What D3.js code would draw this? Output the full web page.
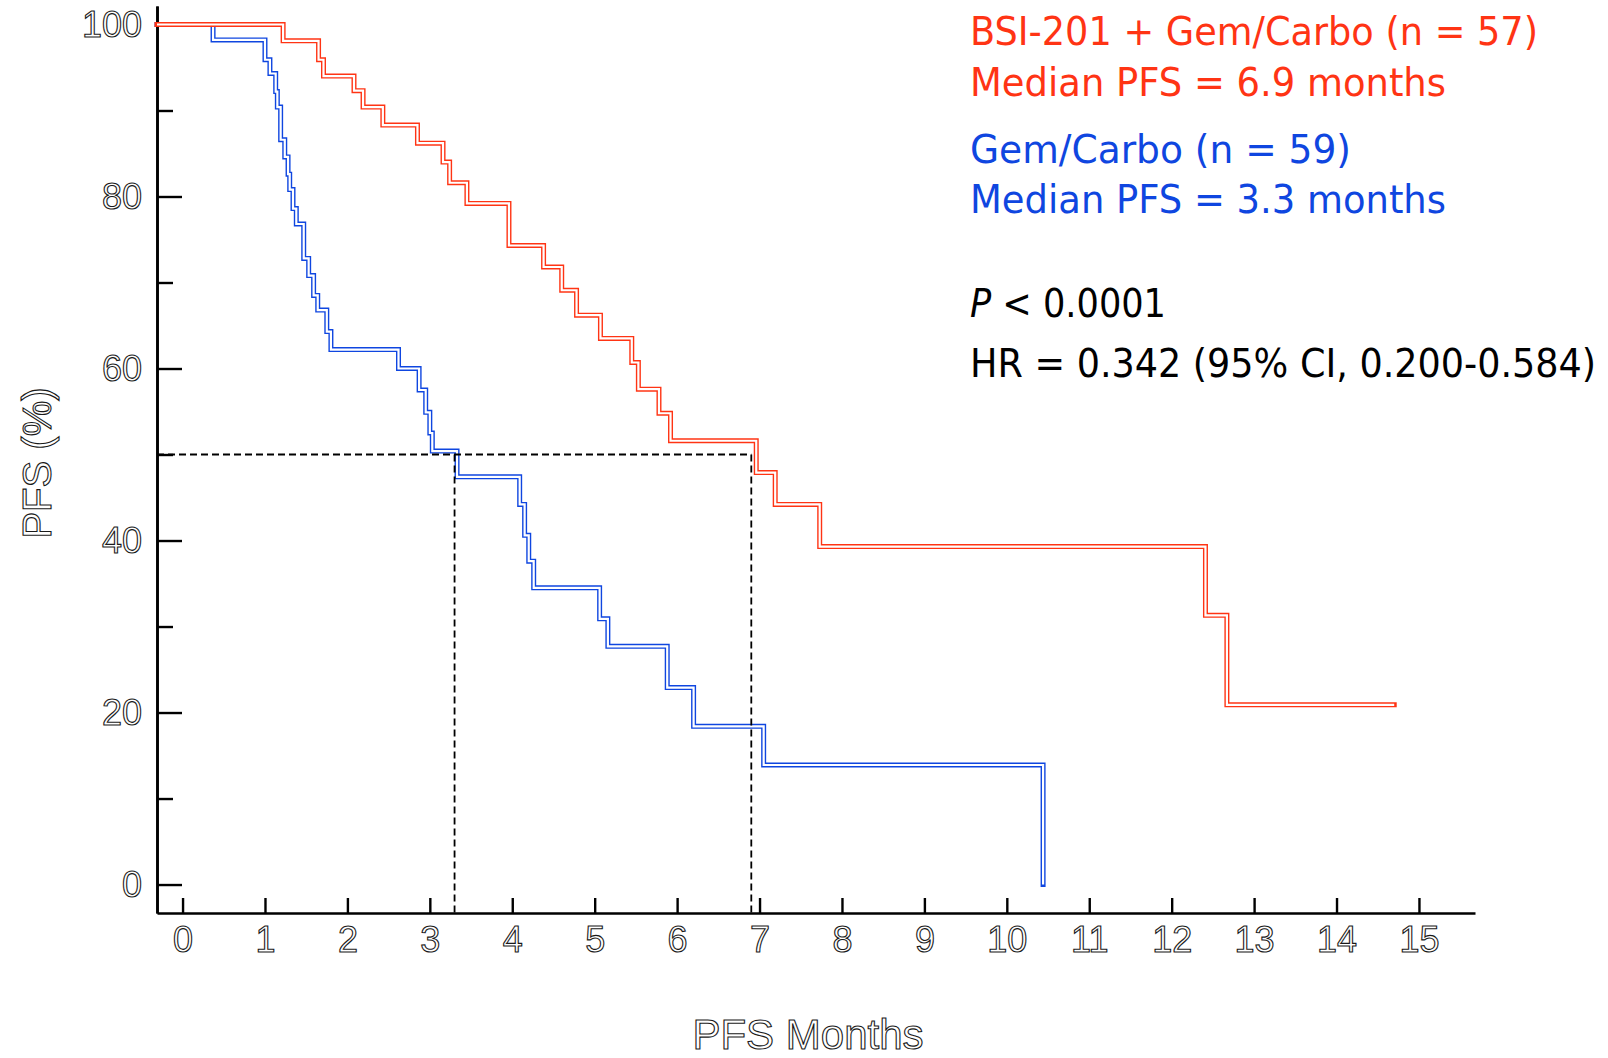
<!DOCTYPE html>
<html>
<head>
<meta charset="utf-8">
<script src="https://cdn.jsdelivr.net/npm/d3@7"></script>
<style>
  body { margin: 0; background: #fff; }
  svg { display: block; }
</style>
</head>
<body>
<div id="chart"></div>
<script>
// Kaplan-Meier step data (months, PFS %)
const bsiTimes = [1.22, 1.65, 1.71, 2.08, 2.19, 2.43, 2.85, 3.16, 3.24, 3.45, 3.96, 4.38, 4.60, 4.78, 5.07, 5.45, 5.53, 5.78, 5.92, 6.96, 7.19, 7.73, 12.41, 12.67, 14.70];
const bsiSurv  = [98.1, 95.9, 94.0, 92.3, 90.4, 88.3, 86.2, 84.0, 81.6, 79.2, 74.3, 71.8, 69.1, 66.2, 63.5, 60.7, 57.6, 54.8, 51.6, 47.9, 44.2, 39.3, 31.3, 20.9, 20.9];

const gcTimes = [0.37, 1.00, 1.06, 1.13, 1.15, 1.19, 1.24, 1.28, 1.30, 1.34, 1.38, 1.47, 1.53, 1.59, 1.64, 1.75, 1.80, 2.62, 2.87, 2.95, 3.00, 3.03, 3.33, 4.09, 4.15, 4.20, 4.26, 5.06, 5.16, 5.88, 6.20, 7.05, 10.44];
const gcSurv  = [98.2, 95.9, 94.3, 92.2, 90.4, 86.6, 84.6, 82.6, 80.8, 78.6, 76.8, 72.8, 70.8, 68.5, 66.8, 64.3, 62.2, 60.0, 57.5, 54.9, 52.5, 50.4, 47.4, 44.2, 40.6, 37.6, 34.5, 30.9, 27.7, 22.9, 18.4, 13.9, 0];

const medians = [3.3, 6.9];
const medianLevel = 50;

const xTicks = d3.range(0, 16);
const yMajor = [0, 20, 40, 60, 80, 100];
const yMinor = [10, 30, 50, 70, 90];

const legendLines = [
  "BSI-201 + Gem/Carbo (n = 57)",
  "Median PFS = 6.9 months",
  "Gem/Carbo (n = 59)",
  "Median PFS = 3.3 months"
];
const pText = " < 0.0001";
const hrText = "HR = 0.342 (95% CI, 0.200-0.584)";

const red = "#ff3414", blue = "#0f46e0";
const width = 1608, height = 1058;

const svg = d3.select("#chart").append("svg")
  .attr("width", width).attr("height", height);

const x = d3.scaleLinear().domain([-0.31, 15.68]).range([157, 1475]);
const y = d3.scaleLinear().domain([-3.31, 102.15]).range([913, 6]);

// axes
const tickFont = "'Liberation Sans', Arial, sans-serif";
function styleAxis(g) {
  g.select(".domain").attr("stroke", "#000").attr("stroke-width", 2.6);
  g.selectAll(".tick line").attr("stroke", "#000").attr("stroke-width", 2.4);
  g.selectAll(".tick text")
    .attr("fill", "#fff").attr("stroke", "#1a1a1a").attr("stroke-width", 1.1)
    .attr("font-family", tickFont).attr("font-size", 36);
}

svg.append("g")
  .attr("transform", `translate(${x.range()[0]},0)`)
  .call(d3.axisLeft(y).tickValues(yMinor).tickSizeInner(-16).tickSizeOuter(0).tickFormat(""))
  .call(styleAxis);

svg.append("g")
  .attr("transform", `translate(${x.range()[0]},0)`)
  .call(d3.axisLeft(y).tickValues(yMajor).tickSizeInner(-25).tickSizeOuter(0).tickPadding(15))
  .call(styleAxis);

svg.append("g")
  .attr("transform", `translate(0,${y.range()[0]})`)
  .call(d3.axisBottom(x).tickValues(xTicks).tickSizeInner(-15).tickSizeOuter(0).tickPadding(13))
  .call(styleAxis);

// axis titles (outlined)
svg.append("text")
  .attr("x", 808).attr("y", 1049)
  .attr("text-anchor", "middle")
  .attr("font-family", tickFont).attr("font-size", 42)
  .attr("fill", "#fff").attr("stroke", "#1a1a1a").attr("stroke-width", 1.1)
  .text("PFS Months");

svg.append("text")
  .attr("transform", "translate(51,463) rotate(-90)")
  .attr("text-anchor", "middle")
  .attr("font-family", tickFont).attr("font-size", 40)
  .attr("fill", "#fff").attr("stroke", "#1a1a1a").attr("stroke-width", 1.1)
  .text("PFS (%)");

// KM curves as outlined strokes
const line = d3.line().x(d => x(d[0])).y(d => y(d[1])).curve(d3.curveStepAfter);

function drawCurve(times, surv, color) {
  const pts = [[x.domain()[0], 100]].concat(times.map((t, i) => [t, surv[i]]));
  const g = svg.append("g");
  g.append("path").attr("d", line(pts))
    .attr("fill", "none").attr("stroke", color).attr("stroke-width", 5)
    .attr("stroke-linecap", "square").attr("stroke-linejoin", "miter");
  g.append("path").attr("d", line(pts))
    .attr("fill", "none").attr("stroke", "#fff").attr("stroke-width", 2.2)
    .attr("stroke-linecap", "butt").attr("stroke-linejoin", "miter");
}

drawCurve(gcTimes, gcSurv, blue);
drawCurve(bsiTimes, bsiSurv, red);

// median reference lines
const dash = svg.append("g").attr("fill", "none").attr("stroke", "#000")
  .attr("stroke-width", 1.8).attr("stroke-dasharray", "7,4");
dash.append("line")
  .attr("x1", x.range()[0]).attr("x2", x(d3.max(medians)))
  .attr("y1", y(medianLevel)).attr("y2", y(medianLevel));
dash.selectAll("line.v").data(medians).enter().append("line")
  .attr("class", "v")
  .attr("x1", d => x(d)).attr("x2", d => x(d))
  .attr("y1", y(medianLevel)).attr("y2", y.range()[0]);

// legend / statistics text
const legFont = "'DejaVu Sans Condensed', 'DejaVu Sans', Verdana, sans-serif";
const legX = 970;
const legBase = [45, 96, 163, 213];
const legWidth = [568, 476, 381, 476];
const legColor = [red, red, blue, blue];

svg.selectAll("text.leg").data(legendLines).enter().append("text")
  .attr("class", "leg")
  .attr("x", legX).attr("y", (d, i) => legBase[i])
  .attr("font-family", legFont).attr("font-size", 39)
  .attr("fill", (d, i) => legColor[i])
  .attr("textLength", (d, i) => legWidth[i])
  .attr("lengthAdjust", "spacingAndGlyphs")
  .text(d => d);

const pLine = svg.append("text")
  .attr("x", legX).attr("y", 317)
  .attr("font-family", legFont).attr("font-size", 39).attr("fill", "#000")
  .attr("textLength", 196).attr("lengthAdjust", "spacingAndGlyphs");
pLine.append("tspan").attr("font-style", "italic").text("P");
pLine.append("tspan").text(pText);

svg.append("text")
  .attr("x", legX).attr("y", 377)
  .attr("font-family", legFont).attr("font-size", 39).attr("fill", "#000")
  .attr("textLength", 626).attr("lengthAdjust", "spacingAndGlyphs")
  .text(hrText);
</script>
</body>
</html>
